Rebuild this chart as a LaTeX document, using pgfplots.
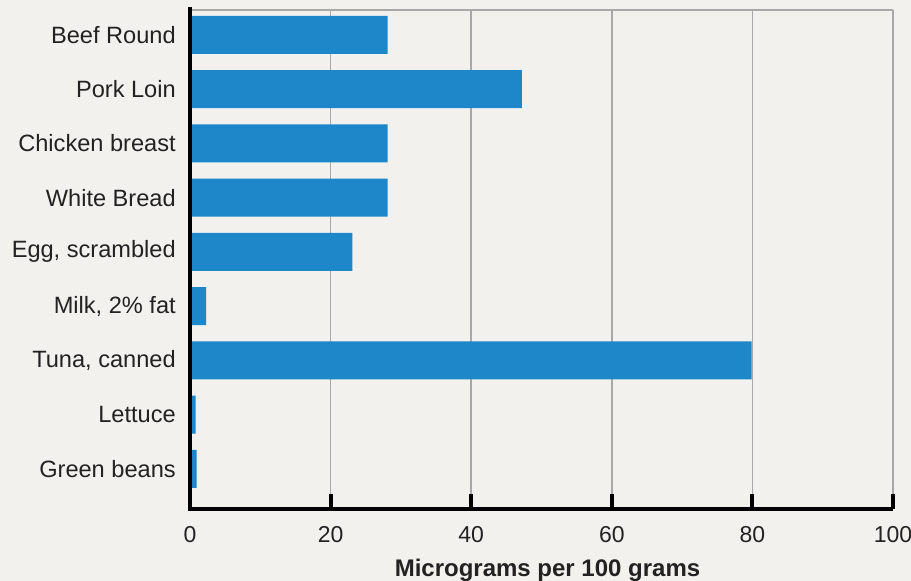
\documentclass[border=0pt]{standalone}
\usepackage{fontspec}
\setmainfont{Liberation Sans}
\usepackage{pgfplots}
\pgfplotsset{compat=1.18}
\definecolor{barblue}{HTML}{1D87C9}
\definecolor{paper}{HTML}{F2F1ED}
\definecolor{gridgrey}{HTML}{A8A8A8}
\definecolor{txt}{HTML}{222222}
\begin{document}
\begin{tikzpicture}
\fill[paper] (0pt,0pt) rectangle (455.5pt,290.5pt);
\begin{axis}[
  at={(95pt,36pt)}, anchor=south west,
  scale only axis, width=351.5pt, height=249.5pt,
  xmin=0, xmax=100, ymin=-0.74, ymax=8.46,
  clip=false,
  axis line style={draw=none},
  xbar, bar width=0.7,
  xtick={0,20,40,60,80,100},
  xtick pos=left,
  tick align=inside,
  major tick length=7.5pt,
  x tick style={black, line width=2pt},
  y tick style={draw=none},
  xmajorgrids,
  grid style={gridgrey, line width=0.75pt},
  /pgf/number format/assume math mode=true,
  xticklabel style={font=\fontsize{11.5}{13}\selectfont, text=txt, yshift=-5pt},
  ytick={0,1,2,3,4,5,6,7,8},
  yticklabels={Green beans, Lettuce, {Tuna, canned}, {Milk, 2\% fat}, {Egg, scrambled}, White Bread, Chicken breast, Pork Loin, Beef Round},
  yticklabel style={font=\fontsize{11.8}{14}\selectfont, text=txt, xshift=-3.6pt},
  xlabel={Micrograms per 100 grams},
  xlabel style={font=\fontsize{12}{14}\selectfont\bfseries, text=txt, at={(axis description cs:0.5,0)}, anchor=base, yshift=-34pt, xshift=3pt},
]
\addplot[fill=barblue, draw=none] coordinates {
  (28.1,8) (47.2,7) (28.1,6) (28.1,5) (23.1,4) (2.3,3) (79.9,2) (0.8,1) (0.95,0)
};
\draw[gridgrey, line width=0.75pt] (axis description cs:0,1) -- (axis description cs:1,1);
\draw[black, line width=2pt] (axis description cs:0,1.005) -- (axis description cs:0,0) -- (axis description cs:1,0);
\end{axis}
\pgfresetboundingbox
\path[use as bounding box] (0pt,0pt) rectangle (455.5pt,290.5pt);
\end{tikzpicture}
\end{document}
